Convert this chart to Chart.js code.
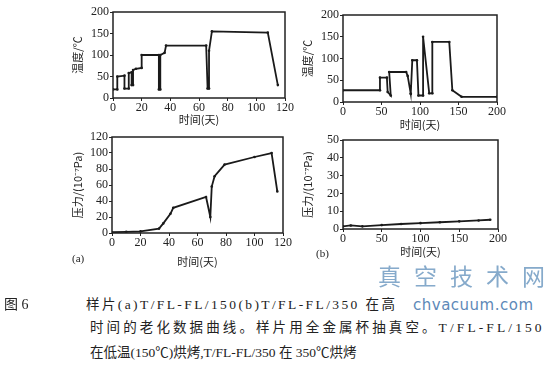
<!DOCTYPE html>
<html>
<head>
<meta charset="utf-8">
<script src="https://cdn.jsdelivr.net/npm/chart.js@4.4.0/dist/chart.umd.min.js"></script>
<style>
  body { margin: 0; width: 552px; height: 376px; overflow: hidden; position: relative; background: #fff;
         font-family: "Liberation Serif", "Noto Sans CJK SC", serif; color: #222; }
  .box { position: absolute; }
  .cap { position: absolute; white-space: nowrap; font-size: 13.5px; line-height: 20px; }
</style>
</head>
<body>
<div class="box" style="left:71px;top:0px;width:224px;height:126px"><canvas id="tempA"></canvas></div>
<div class="box" style="left:301px;top:0px;width:209px;height:131px"><canvas id="tempB"></canvas></div>
<div class="box" style="left:71px;top:125px;width:224px;height:143px"><canvas id="presA"></canvas></div>
<div class="box" style="left:301px;top:128px;width:210px;height:130px"><canvas id="presB"></canvas></div>

<div class="cap" style="left:72px;top:248px;font-size:11px">(a)</div>
<div class="cap" style="left:316px;top:243px;font-size:11px">(b)</div>

<div class="cap" style="left:378px;top:268px;font-size:23px;letter-spacing:13px;color:#86aacb">真空技术网</div>
<div class="cap" style="left:4px;top:295px;font-size:14px">图 6</div>
<div class="cap" style="left:86px;top:295px;letter-spacing:2.4px">样片(a)T/FL-FL/150(b)T/FL-FL/350 在高</div>
<div class="cap" style="left:413px;top:295px;font-size:15px;letter-spacing:0.5px;color:#5d89b8;font-family:'DejaVu Sans'">chvacuum.com</div>
<div class="cap" style="left:90px;top:318px;letter-spacing:3.1px">时间的老化数据曲线。样片用全金属杯抽真空。T/FL-FL/150</div>
<div class="cap" style="left:90px;top:343px">在低温(150℃)烘烤,T/FL-FL/350 在 350℃烘烤</div>

<script>
// (a) 温度
const tempADays = [0, 3, 3, 8, 8, 11, 11, 13, 13, 14, 14, 16, 20, 20, 32, 32, 33, 33, 36, 37, 65, 66, 67, 67, 69, 108, 115];
const tempAVals = [20, 20, 50, 52, 22, 22, 58, 60, 30, 30, 65, 68, 70, 100, 100, 20, 20, 100, 105, 122, 122, 22, 22, 110, 155, 152, 30];
// (b) 温度
const tempBDays = [0, 48, 48, 57, 58, 62, 60, 82, 84, 88, 88, 90, 96, 98, 104, 104, 112, 116, 116, 138, 142, 154, 200];
const tempBVals = [27, 27, 56, 56, 23, 15, 69, 69, 60, 19, 19, 96, 96, 15, 15, 150, 20, 20, 138, 138, 27, 12, 12];
// (a) 压力
const presADays = [0, 10, 20, 33, 36, 41, 43, 66, 69, 70, 72, 79, 100, 112, 116];
const presAVals = [1, 1.5, 2, 5.5, 12, 24, 31.5, 45, 20, 58, 71, 85.5, 95, 100, 52];
// (b) 压力
const presBDays = [0, 10, 25, 50, 75, 100, 125, 150, 175, 190];
const presBVals = [1.5, 2, 1.5, 2.2, 2.8, 3.3, 3.8, 4.3, 4.8, 5.2];

const tickFont = { family: 'Liberation Serif', size: 12 };
const titleFont = { family: 'Noto Sans CJK SC', size: 11 };

const frame = {
  id: 'frame',
  afterDraw(chart) {
    const { ctx, chartArea: a } = chart;
    ctx.save();
    ctx.strokeStyle = '#222';
    ctx.lineWidth = 1.5;
    ctx.strokeRect(a.left, a.top, a.right - a.left, a.bottom - a.top);
    ctx.restore();
  }
};

function makeChart(id, days, vals, x, y, pad, xH, yW) {
  new Chart(document.getElementById(id), {
    type: 'scatter',
    data: {
      datasets: [{
        data: days.map((d, i) => ({ x: d, y: vals[i] })),
        showLine: true,
        borderColor: '#1a1a1a',
        borderWidth: 1.8,
        pointRadius: 1.3,
        pointBackgroundColor: '#1a1a1a',
        pointBorderWidth: 0
      }]
    },
    options: {
      responsive: true,
      maintainAspectRatio: false,
      animation: false,
      layout: { padding: pad },
      plugins: { legend: { display: false }, tooltip: { enabled: false } },
      scales: {
        x: {
          type: 'linear', min: x[0], max: x[1],
          ticks: { stepSize: x[2], color: '#222', font: tickFont, padding: 0, maxRotation: 0, autoSkip: false },
          grid: { drawOnChartArea: false, tickLength: 3, color: '#222' },
          border: { display: false },
          title: { display: true, text: '时间(天)', color: '#222', font: titleFont, padding: 0 },
          afterFit: s => { s.height = xH; }
        },
        y: {
          min: y[0], max: y[1],
          ticks: { stepSize: y[2], color: '#222', font: tickFont, padding: 1, autoSkip: false },
          grid: { drawOnChartArea: false, tickLength: 3, color: '#222' },
          border: { display: false },
          title: { display: true, text: y[3], color: '#222', font: titleFont, padding: 0 },
          afterFit: s => { s.width = yW; }
        }
      }
    },
    plugins: [frame]
  });
}

makeChart('tempA', tempADays, tempAVals, [0, 120, 20], [0, 200, 50, '温度/℃'], { top: 12, right: 10 }, 28, 42);
makeChart('tempB', tempBDays, tempBVals, [0, 200, 50], [0, 200, 50, '温度/℃'], { top: 15, right: 13 }, 29, 42);
makeChart('presA', presADays, presAVals, [0, 120, 20], [0, 120, 20, '压力/(10⁻⁷Pa)'], { top: 12, right: 12 }, 35, 41);
makeChart('presB', presBDays, presBVals, [0, 200, 50], [0, 50, 10, '压力/(10⁻⁷Pa)'], { top: 12, right: 13 }, 29, 42);
</script>
</body>
</html>
